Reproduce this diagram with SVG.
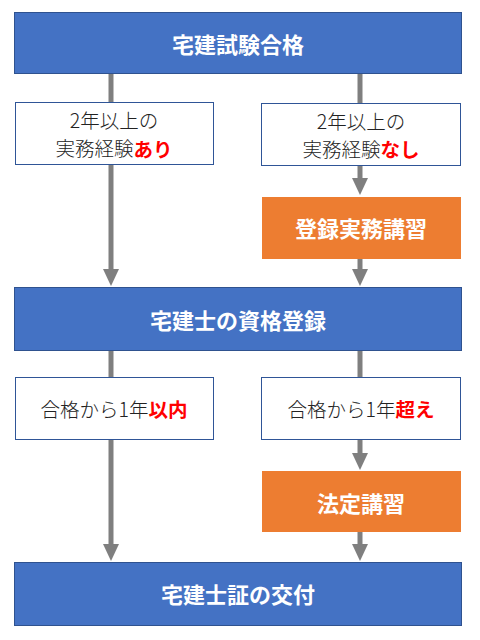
<svg xmlns="http://www.w3.org/2000/svg" width="480" height="640" viewBox="0 0 480 640">
<style>
.blue{fill:#4472C4;stroke:#2F528F;stroke-width:1}
.orange{fill:#ED7D31;stroke:none}
.white{fill:#FFFFFF;stroke:#2F5597;stroke-width:1}
.t{font-family:"Noto Sans CJK JP","Noto Sans",sans-serif;text-anchor:middle;dominant-baseline:central}
.title{font-size:22px;font-weight:bold;fill:#FFFFFF}
.body{font-size:19.5px;font-weight:300;fill:#222222}
.red{font-weight:bold;fill:#FF0000}
.conn{stroke:#7F7F7F;stroke-width:5;fill:none}
</style>
<defs>
<marker id="ah" markerUnits="userSpaceOnUse" markerWidth="20" markerHeight="20" viewBox="0 -10 20 20" refX="1" refY="0" orient="auto">
<path d="M0,-8 L17,0 L0,8 z" fill="#7F7F7F"/>
</marker>
</defs>
<rect width="480" height="640" fill="#FFFFFF"/>
<g id="connectors">
<path class="conn" d="M111,74 V102"/>
<path class="conn" d="M360,74 V103"/>
<path class="conn" d="M111,165 V270" marker-end="url(#ah)"/>
<path class="conn" d="M360,166 V179" marker-end="url(#ah)"/>
<path class="conn" d="M360,259 V270" marker-end="url(#ah)"/>
<path class="conn" d="M111,351 V377"/>
<path class="conn" d="M360,351 V377"/>
<path class="conn" d="M111,440 V545" marker-end="url(#ah)"/>
<path class="conn" d="M360,440 V454" marker-end="url(#ah)"/>
<path class="conn" d="M360,532 V545" marker-end="url(#ah)"/>
</g>
<g id="n_pass">
<rect class="blue" x="14.5" y="12.5" width="447" height="61"/>
<text class="t title" x="238" y="43">宅建試験合格</text>
</g>
<g id="n_exp_yes">
<rect class="white" x="15.5" y="102.5" width="198" height="62"/>
<text class="t body" x="114" y="119.5">2年以上の</text>
<text class="t body" x="114" y="147.5">実務経験<tspan class="red">あり</tspan></text>
</g>
<g id="n_exp_no">
<rect class="white" x="261.5" y="103.5" width="199" height="62"/>
<text class="t body" x="361" y="120">2年以上の</text>
<text class="t body" x="361" y="148">実務経験<tspan class="red">なし</tspan></text>
</g>
<g id="n_reg_course">
<rect class="orange" x="262" y="197" width="199" height="62"/>
<text class="t title" x="361" y="227">登録実務講習</text>
</g>
<g id="n_register">
<rect class="blue" x="14.5" y="287.5" width="447" height="63"/>
<text class="t title" x="238" y="319">宅建士の資格登録</text>
</g>
<g id="n_within">
<rect class="white" x="15.5" y="377.5" width="198" height="62"/>
<text class="t body" x="114" y="408">合格から1年<tspan class="red">以内</tspan></text>
</g>
<g id="n_over">
<rect class="white" x="261.5" y="377.5" width="199" height="62"/>
<text class="t body" x="361" y="408">合格から1年<tspan class="red">超え</tspan></text>
</g>
<g id="n_legal_course">
<rect class="orange" x="262" y="471" width="199" height="61"/>
<text class="t title" x="361" y="502">法定講習</text>
</g>
<g id="n_card">
<rect class="blue" x="14.5" y="562.5" width="447" height="63"/>
<text class="t title" x="238" y="593">宅建士証の交付</text>
</g>
</svg>
